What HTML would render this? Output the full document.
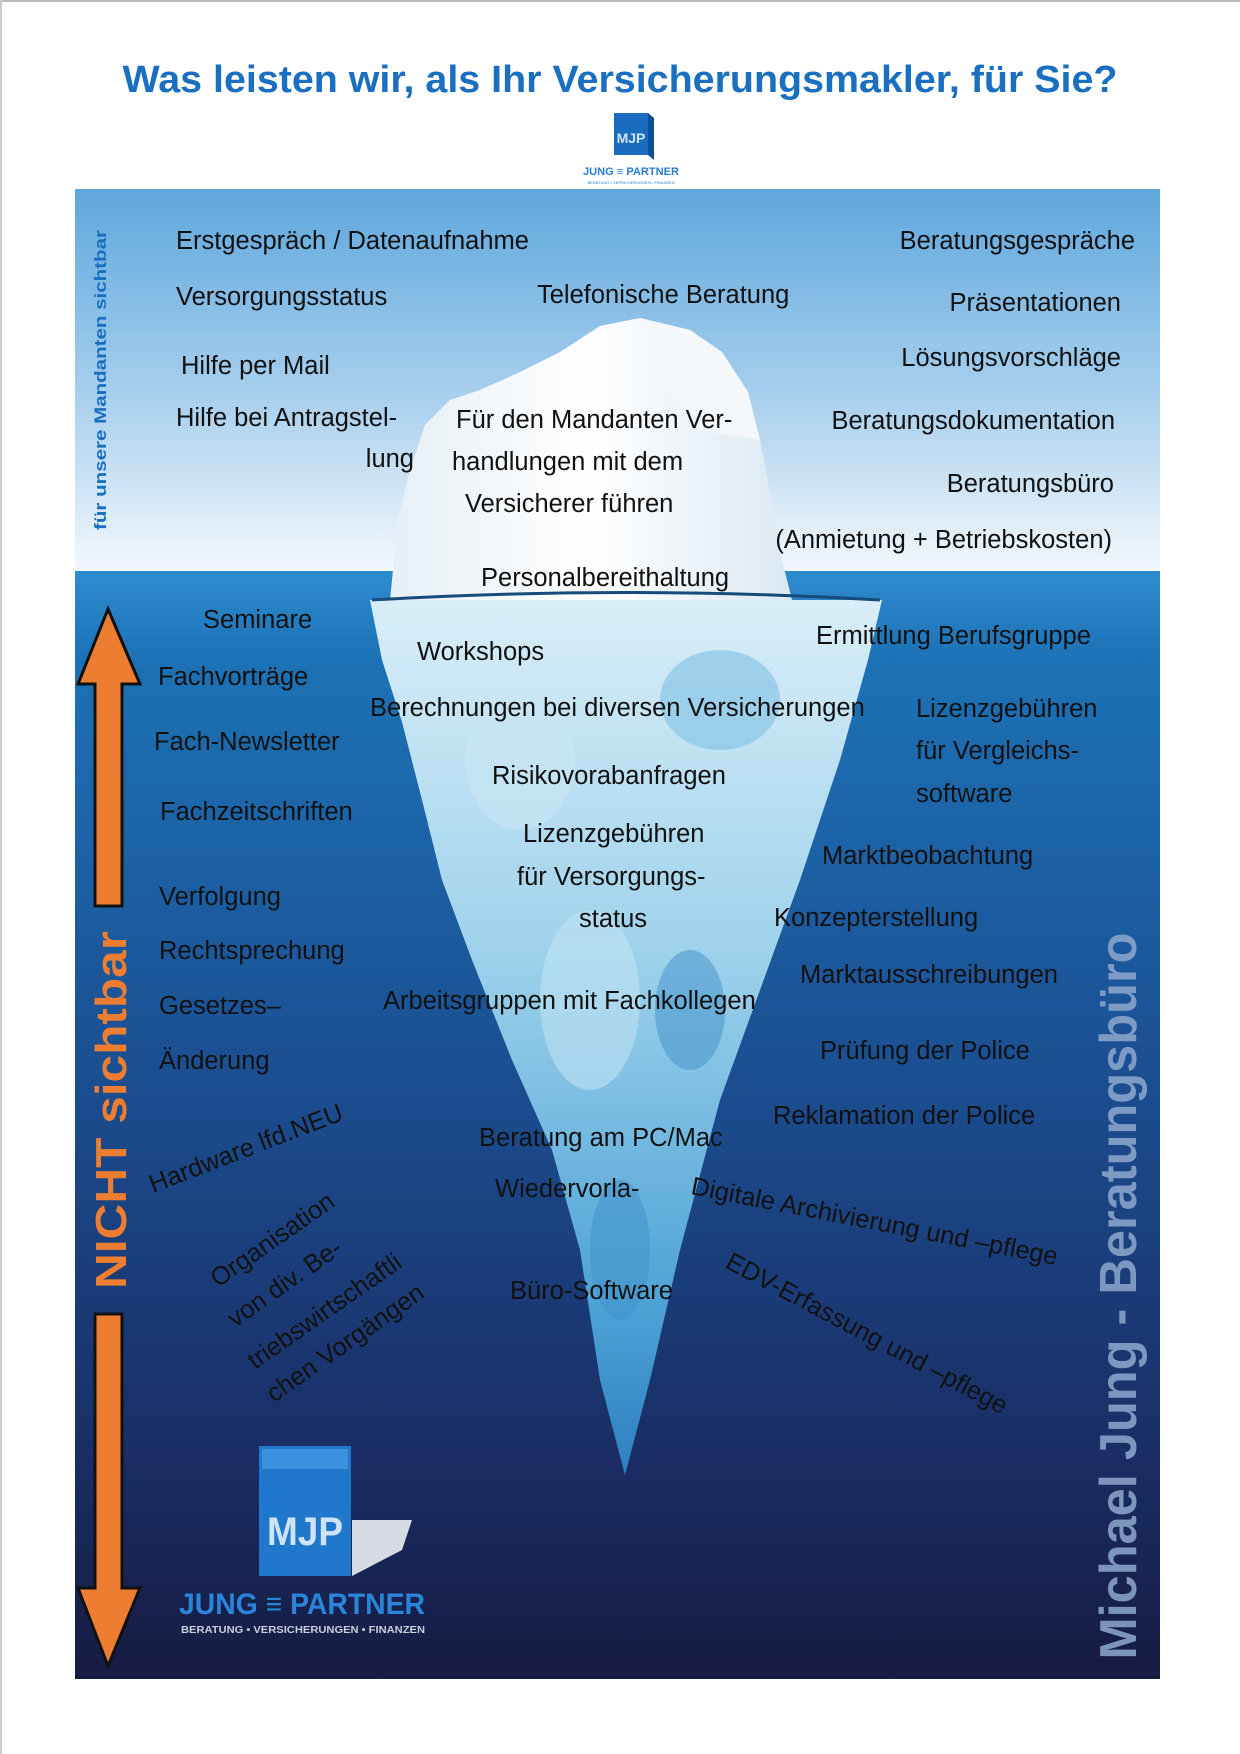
<!DOCTYPE html>
<html><head><meta charset="utf-8"><style>
html,body{margin:0;padding:0;background:#fff}
svg{display:block}
.t{font-family:"Liberation Sans",sans-serif;font-size:25.5px;fill:#111}
</style></head><body>
<svg width="1240" height="1754" viewBox="0 0 1240 1754" xmlns="http://www.w3.org/2000/svg">
<defs>
<linearGradient id="sky" x1="0" y1="0" x2="0" y2="1">
<stop offset="0" stop-color="#5ea7dd"/><stop offset="0.55" stop-color="#a9d0ee"/><stop offset="1" stop-color="#f3f8fc"/></linearGradient>
<linearGradient id="sea" x1="0" y1="0" x2="0" y2="1">
<stop offset="0" stop-color="#2e8ccf"/><stop offset="0.08" stop-color="#1c72b6"/><stop offset="0.45" stop-color="#1b4f92"/><stop offset="0.8" stop-color="#1a2d64"/><stop offset="1" stop-color="#161b42"/></linearGradient>
<linearGradient id="ice" x1="0" y1="0" x2="0" y2="1">
<stop offset="0" stop-color="#d8eef8"/><stop offset="0.4" stop-color="#9fd2ec"/><stop offset="0.8" stop-color="#4ea3d6"/><stop offset="1" stop-color="#2d7fbf"/></linearGradient>
<linearGradient id="top" x1="0" y1="0" x2="1" y2="0">
<stop offset="0" stop-color="#e6eff6"/><stop offset="0.5" stop-color="#ffffff"/><stop offset="1" stop-color="#dbe8f2"/></linearGradient>
</defs>
<rect x="0" y="0" width="1240" height="2" fill="#bbb"/>
<rect x="0" y="0" width="2" height="1754" fill="#ccc"/>
<text x="620" y="92" text-anchor="middle" font-family="Liberation Sans,sans-serif" font-weight="bold" font-size="38" fill="#1a6fc0" textLength="995" lengthAdjust="spacingAndGlyphs">Was leisten wir, als Ihr Versicherungsmakler, für Sie?</text>
<rect x="614" y="113" width="34" height="42" fill="#1a6cc0"/>
<polygon points="648,113 654,118 654,160 648,155" fill="#0f4f96"/>
<text x="631" y="143" text-anchor="middle" font-family="Liberation Sans,sans-serif" font-weight="bold" font-size="14" fill="#cfe4f7">MJP</text>
<text x="631" y="175" text-anchor="middle" font-family="Liberation Sans,sans-serif" font-weight="bold" font-size="11" fill="#2a7dd0" textLength="96" lengthAdjust="spacingAndGlyphs">JUNG ≡ PARTNER</text>
<text x="631" y="184" text-anchor="middle" font-family="Liberation Sans,sans-serif" font-size="4" fill="#2a7dd0">BERATUNG • VERSICHERUNGEN • FINANZEN</text>
<rect x="75" y="189" width="1085" height="383" fill="url(#sky)"/>
<rect x="75" y="571" width="1085" height="1108" fill="url(#sea)"/>
<polygon points="390,600 398,520 410,470 425,425 450,400 480,390 520,372 560,352 600,326 640,318 690,330 722,352 748,392 760,440 770,492 782,560 792,600" fill="url(#top)"/>
<polygon points="640,318 690,330 722,352 748,392 760,440 700,430 670,390" fill="#f4f8fb"/>
<polygon points="370,600 382,660 402,722 422,800 442,880 472,960 512,1060 552,1150 580,1250 600,1380 625,1475 650,1380 680,1250 720,1100 760,990 800,880 840,760 868,660 882,600" fill="url(#ice)"/>
<ellipse cx="520" cy="760" rx="55" ry="70" fill="#c8e6f4" opacity="0.7"/>
<ellipse cx="720" cy="700" rx="60" ry="50" fill="#7fc0e4" opacity="0.6"/>
<ellipse cx="590" cy="1000" rx="50" ry="90" fill="#bfe2f3" opacity="0.6"/>
<ellipse cx="690" cy="1010" rx="35" ry="60" fill="#3f8fca" opacity="0.5"/>
<ellipse cx="620" cy="1250" rx="30" ry="70" fill="#3f8fca" opacity="0.5"/>
<path d="M372,600 Q625,585 880,600" stroke="#174b7c" stroke-width="3" fill="none"/>
<text transform="translate(106,380) rotate(-90)" text-anchor="middle" font-family="Liberation Sans,sans-serif" font-weight="bold" font-size="17" fill="#1a6fc0" textLength="300" lengthAdjust="spacingAndGlyphs">für unsere Mandanten  sichtbar</text>
<text transform="translate(126,1110) rotate(-90)" text-anchor="middle" font-family="Liberation Sans,sans-serif" font-weight="bold" font-size="44" fill="#ed7d31" textLength="358" lengthAdjust="spacingAndGlyphs">NICHT sichtbar</text>
<text transform="translate(1136,1296) rotate(-90)" text-anchor="middle" font-family="Liberation Sans,sans-serif" font-weight="bold" font-size="52" fill="#8ea9cf" opacity="0.85" textLength="727" lengthAdjust="spacingAndGlyphs">Michael Jung -  Beratungsbüro</text>
<polygon points="108,609 140,684 122,684 122,906 95,906 95,684 78,684" fill="#ed7d31" stroke="#111" stroke-width="3"/>
<polygon points="95,1314 122,1314 122,1588 140,1588 108,1666 78,1588 95,1588" fill="#ed7d31" stroke="#111" stroke-width="3"/>
<polygon points="352,1520 412,1520 402,1550 352,1576" fill="#d7dce2"/>
<rect x="259" y="1446" width="92" height="130" fill="#1f78cc"/>
<rect x="262" y="1449" width="86" height="20" fill="#3a92de"/>
<text x="305" y="1545" text-anchor="middle" font-family="Liberation Sans,sans-serif" font-weight="bold" font-size="40" fill="#cfe3f6" textLength="76" lengthAdjust="spacingAndGlyphs">MJP</text>
<text x="179" y="1614" font-family="Liberation Sans,sans-serif" font-weight="bold" font-size="30" fill="#2a84d8" textLength="246" lengthAdjust="spacingAndGlyphs">JUNG ≡ PARTNER</text>
<text x="181" y="1633" font-family="Liberation Sans,sans-serif" font-weight="bold" font-size="10" fill="#c7cfdc" textLength="244" lengthAdjust="spacingAndGlyphs">BERATUNG • VERSICHERUNGEN • FINANZEN</text>
<g class="t">
<text class="t" x="176" y="249">Erstgespräch / Datenaufnahme</text>
<text class="t" x="1135" y="249" text-anchor="end">Beratungsgespräche</text>
<text class="t" x="176" y="305">Versorgungsstatus</text>
<text class="t" x="537" y="303">Telefonische Beratung</text>
<text class="t" x="1121" y="311" text-anchor="end">Präsentationen</text>
<text class="t" x="181" y="374">Hilfe per Mail</text>
<text class="t" x="1121" y="366" text-anchor="end">Lösungsvorschläge</text>
<text class="t" x="176" y="426">Hilfe bei Antragstel-</text>
<text class="t" x="414" y="467" text-anchor="end">lung</text>
<text class="t" x="456" y="428">Für den Mandanten Ver-</text>
<text class="t" x="452" y="470">handlungen mit dem</text>
<text class="t" x="465" y="512">Versicherer führen</text>
<text class="t" x="1115" y="429" text-anchor="end">Beratungsdokumentation</text>
<text class="t" x="1114" y="492" text-anchor="end">Beratungsbüro</text>
<text class="t" x="1112" y="548" text-anchor="end">(Anmietung + Betriebskosten)</text>
<text class="t" x="481" y="586">Personalbereithaltung</text>
<text class="t" x="203" y="628">Seminare</text>
<text class="t" x="417" y="660">Workshops</text>
<text class="t" x="816" y="644">Ermittlung Berufsgruppe</text>
<text class="t" x="158" y="685">Fachvorträge</text>
<text class="t" x="370" y="716">Berechnungen bei diversen Versicherungen</text>
<text class="t" x="916" y="717">Lizenzgebühren</text>
<text class="t" x="916" y="759">für Vergleichs-</text>
<text class="t" x="916" y="802">software</text>
<text class="t" x="154" y="750">Fach-Newsletter</text>
<text class="t" x="492" y="784">Risikovorabanfragen</text>
<text class="t" x="160" y="820">Fachzeitschriften</text>
<text class="t" x="523" y="842">Lizenzgebühren</text>
<text class="t" x="517" y="885">für Versorgungs-</text>
<text class="t" x="579" y="927">status</text>
<text class="t" x="822" y="864">Marktbeobachtung</text>
<text class="t" x="159" y="905">Verfolgung</text>
<text class="t" x="774" y="926">Konzepterstellung</text>
<text class="t" x="159" y="959">Rechtsprechung</text>
<text class="t" x="800" y="983">Marktausschreibungen</text>
<text class="t" x="159" y="1014">Gesetzes–</text>
<text class="t" x="383" y="1009">Arbeitsgruppen mit Fachkollegen</text>
<text class="t" x="159" y="1069">Änderung</text>
<text class="t" x="820" y="1059">Prüfung der Police</text>
<text class="t" x="773" y="1124">Reklamation der Police</text>
<text class="t" x="479" y="1146">Beratung am PC/Mac</text>
<text class="t" x="495" y="1197">Wiedervorla-</text>
<text class="t" x="510" y="1299">Büro-Software</text>
<text class="t" transform="translate(153,1193) rotate(-21)">Hardware lfd.NEU</text>
<text class="t" transform="translate(218,1288) rotate(-35)">Organisation</text>
<text class="t" transform="translate(235,1328) rotate(-35)">von div. Be-</text>
<text class="t" transform="translate(255,1370) rotate(-35)">triebswirtschaftli</text>
<text class="t" transform="translate(274,1403) rotate(-35)">chen Vorgängen</text>
<text class="t" transform="translate(690,1194) rotate(11)">Digitale Archivierung und –pflege</text>
<text class="t" transform="translate(724,1267) rotate(28)">EDV-Erfassung und –pflege</text>
</g>
</svg>
</body></html>
